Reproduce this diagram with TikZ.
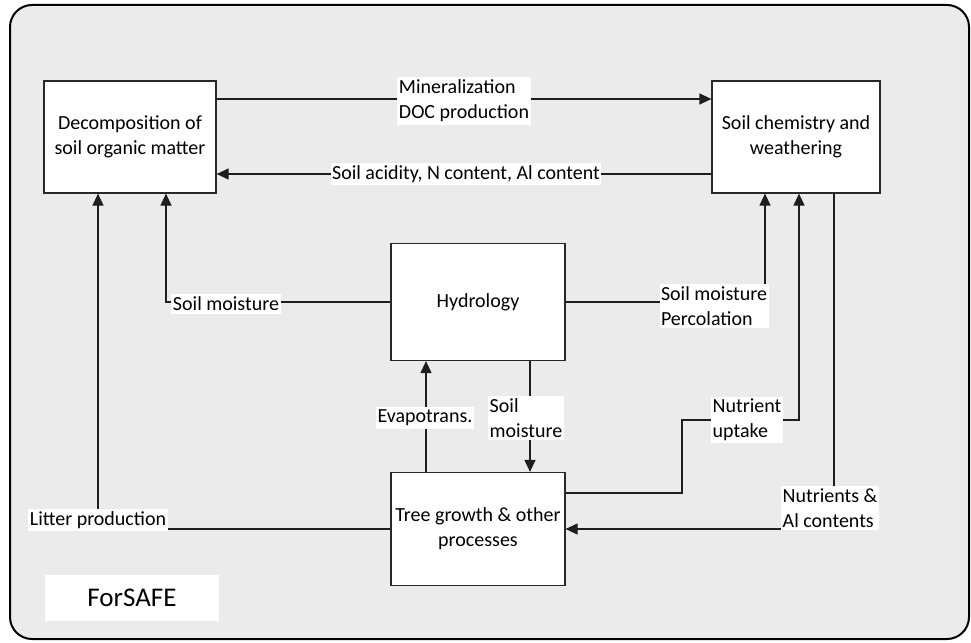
\documentclass[tikz,border=0pt]{standalone}
\usepackage{fontspec}
\setmainfont{Carlito}
\usetikzlibrary{positioning,arrows.meta,calc}
\definecolor{bgC}{RGB}{235,235,235}
\definecolor{lineC}{RGB}{30,30,30}
\definecolor{boxC}{RGB}{40,40,40}
\tikzset{
	frame/.style={draw=black, line width=2pt, rounded corners=22pt, fill=bgC},
	procbox/.style={draw=boxC, line width=1.2pt, fill=white, align=center,
		font=\fontsize{20}{25}\selectfont},
	lbl/.style={fill=white, inner xsep=1.5pt, inner ysep=2.5pt, align=left,
		font=\fontsize{20}{25}\selectfont},
	flow/.style={-{Triangle[length=12pt,width=11pt]}, line width=1.2pt, lineC},
	titlebox/.style={fill=white, minimum width=174pt, minimum height=46pt,
		font=\fontsize{27}{30}\selectfont},
}

\begin{document}
\begin{tikzpicture}[x=1pt, y=-1pt]
		
		\useasboundingbox (0,0) rectangle (971,642);
		\draw[frame] (10,5) rectangle (969,639);
		
		% =============== PROCESS BOXES ===============
		\node[procbox, minimum width=172pt, minimum height=112pt] (decomp) at (130,137)
		{Decomposition of\\soil organic matter};
		\node[procbox, minimum width=168pt, minimum height=112pt] (chem) at (796,137)
		{Soil chemistry and\\weathering};
		\node[procbox, minimum width=174pt, minimum height=117pt] (hyd) at (478,302)
		{Hydrology};
		\node[procbox, minimum width=174pt, minimum height=113pt] (tree) at (478,529)
		{Tree growth \& other\\processes};
		\node[titlebox] (title) at (132,598) {ForSAFE};
		
		% =============== TOP LINKS ===============
		\draw[flow] ([yshift=38pt]decomp.east) -- ([yshift=38pt]chem.west);
		\draw[flow] ([yshift=-37pt]chem.west) -- ([yshift=-37pt]decomp.east);
		
		% =============== HYDROLOGY LINKS ===============
		\draw[flow] (hyd.west) -| ([xshift=36pt]decomp.south);
		\draw[flow] (hyd.east) -| ([xshift=-31pt]chem.south);
		\draw[flow] ([xshift=52pt]hyd.south) -- ([xshift=52pt]tree.north);
		\draw[flow] ([xshift=-52pt]tree.north) -- ([xshift=-52pt]hyd.south);
		
		% =============== TREE LINKS ===============
		\coordinate (bendN) at (682,420);
		\draw[flow] ([yshift=36pt]tree.east) -| (bendN) -| ([xshift=3pt]chem.south);
		\draw[flow] ([xshift=38pt]chem.south) |- (tree.east);
		\draw[flow] (tree.west) -| ([xshift=-32pt]decomp.south);
		
		% =============== LABELS ===============
		\node[lbl] (lMin)   at (464,101) {Mineralization\\DOC production};
		\node[lbl] (lAcid)  at (466,174) {Soil acidity, N content, Al content};
		\node[lbl] (lSmL)   at (226,304) {Soil moisture};
		\node[lbl] (lSmR)   at (714,306) {Soil moisture\\Percolation};
		\node[lbl] (lEvap)  at (425,418) {Evapotrans.};
		\node[lbl] (lSmB)   at (526,418) {Soil\\moisture};
		\node[lbl] (lNut)   at (747,420) {Nutrient\\uptake};
		\node[lbl] (lNutAl) at (830,508) {Nutrients \&\\Al contents};
		\node[lbl] (lLit)   at (98,520)  {Litter production};
		
	\end{tikzpicture}
\end{document}
